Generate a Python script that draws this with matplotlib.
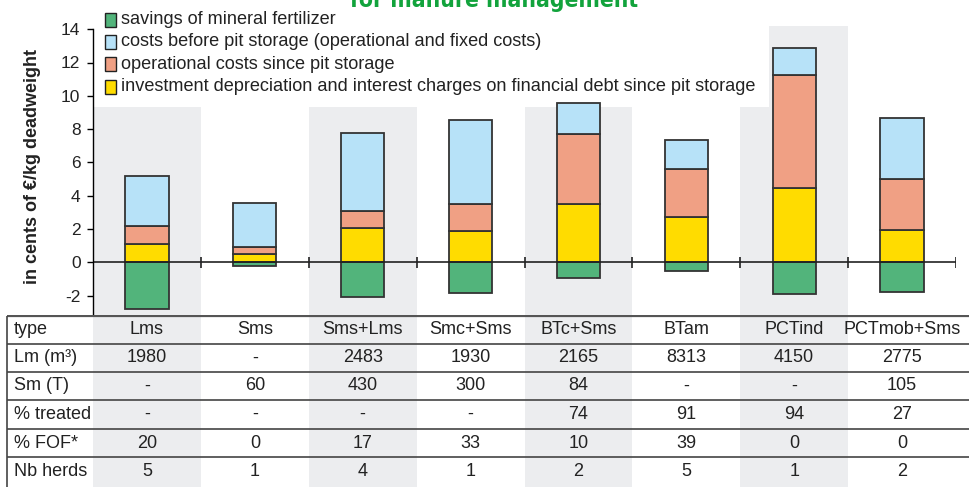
import matplotlib
matplotlib.use("Agg")
import matplotlib.pyplot as plt
from matplotlib.patches import Rectangle

plt.rcParams['font.family'] = ['Liberation Sans', 'DejaVu Sans']

# ---------------- data ----------------
categories = ["Lms", "Sms", "Sms+Lms", "Smc+Sms", "BTc+Sms", "BTam", "PCTind", "PCTmob+Sms"]
savings     = [-2.79, -0.22, -2.10, -1.84, -0.92, -0.50, -1.92, -1.78]
investment  = [1.10, 0.50, 2.04, 1.86, 3.48, 2.72, 4.48, 1.94]
operational = [1.10, 0.44, 1.02, 1.62, 4.24, 2.87, 6.77, 3.04]
before_pit  = [2.97, 2.60, 4.72, 5.07, 1.87, 1.77, 1.64, 3.67]

legend_labels = ["savings of mineral fertilizer",
                 "costs before pit storage (operational and fixed costs)",
                 "operational costs since pit storage",
                 "investment depreciation and interest charges on financial debt since pit storage"]
colors = {"savings": "#52B47B", "before": "#B7E2F8", "oper": "#F0A084", "invest": "#FFDC00"}

row_labels = ["type", "Lm (m³)", "Sm (T)", "% treated", "% FOF*", "Nb herds"]
lm_vals      = ["1980", "-", "2483", "1930", "2165", "8313", "4150", "2775"]
sm_vals      = ["-", "60", "430", "300", "84", "-", "-", "105"]
treated_vals = ["-", "-", "-", "-", "74", "91", "94", "27"]
fof_vals     = ["20", "0", "17", "33", "10", "39", "0", "0"]
herds_vals   = ["5", "1", "4", "1", "2", "5", "1", "2"]
table_rows = [categories, lm_vals, sm_vals, treated_vals, fof_vals, herds_vals]

yticks = [-2, 0, 2, 4, 6, 8, 10, 12, 14]
title_text = "for manure management"
ylabel_text = "in cents of €/kg deadweight"

# ---------------- layout ----------------
W, H = 969, 487
fig = plt.figure(figsize=(W / 100, H / 100), dpi=100)

def fx(px):
    return px / W

def fy(py):
    return 1 - py / H

ax_left, ax_right, ax_top, ax_bot = 93, 956, 26, 315
ax = fig.add_axes([fx(ax_left), fy(ax_bot), fx(ax_right) - fx(ax_left), fy(ax_top) - fy(ax_bot)])
n = len(categories)
x = list(range(n))
zero_px, unit_px = 262.3, 16.65
ymax = (zero_px - ax_top) / unit_px
ymin = (zero_px - ax_bot) / unit_px
ax.set_xlim(-0.5, n - 0.5)
ax.set_ylim(ymin, ymax)
band = "#ECEDEF"
for i in range(0, n, 2):
    ax.axvspan(i - 0.5, i + 0.5, color=band, lw=0, zorder=0)

# white legend box covering the upper part of the bands
legend_right = (769 - ax_left) / ((ax_right - ax_left) / n) - 0.5
legend_bottom = (zero_px - 107) / unit_px
ax.add_patch(Rectangle((-0.5, legend_bottom), legend_right + 0.5, ymax - legend_bottom + 1,
                       facecolor="white", edgecolor="none", zorder=1))

bw = 0.4
ec = "#333333"
lw = 1.3
ax.bar(x, savings, bw, color=colors["savings"], edgecolor=ec, linewidth=lw, zorder=3)
ax.bar(x, investment, bw, color=colors["invest"], edgecolor=ec, linewidth=lw, zorder=3)
b2 = [a for a in investment]
ax.bar(x, operational, bw, bottom=b2, color=colors["oper"], edgecolor=ec, linewidth=lw, zorder=3)
b3 = [a + b for a, b in zip(investment, operational)]
ax.bar(x, before_pit, bw, bottom=b3, color=colors["before"], edgecolor=ec, linewidth=lw, zorder=3)

# zero line with category separators
ax.axhline(0, color="#222222", lw=1.2, zorder=4)
tick_h = 5.5 / unit_px
ax.vlines([i + 0.5 for i in range(n)], -tick_h, tick_h, color="#222222", lw=1.2, zorder=4)

for s in ["top", "right", "bottom"]:
    ax.spines[s].set_visible(False)
ax.spines["left"].set_bounds(ymin, 14)
ax.spines["left"].set_linewidth(1.0)
ax.spines["left"].set_zorder(5)
ax.set_xticks([])
ax.set_yticks(yticks)
ax.set_yticklabels([str(t) for t in yticks])
ax.tick_params(axis="y", direction="out", length=4, width=1, pad=5, labelsize=12.5, labelcolor="#222222")

# y label
fig.text(fx(33), fy(167), ylabel_text, rotation=90, ha="center", va="center",
         fontsize=13, fontweight="bold", color="#222222")

# title (cut by top edge, as in the reference)
fig.text(fx(494), fy(6.5), title_text, ha="center", va="baseline", fontsize=16.4,
         fontweight="bold", family="DejaVu Sans", fontstretch="condensed", color="#12A33C")

# legend
leg_cols = [colors["savings"], colors["before"], colors["oper"], colors["invest"]]
leg_y = [19.7, 42.0, 64.3, 86.5]
for lab, c, yy in zip(legend_labels, leg_cols, leg_y):
    fig.patches.append(Rectangle((fx(104.5), fy(yy + 7)), fx(11), 14 / H, facecolor=c,
                                 edgecolor="#222222", linewidth=1.0, transform=fig.transFigure, zorder=6))
    fig.text(fx(121), fy(yy), lab, ha="left", va="center", fontsize=13.1, color="#222222", zorder=6)

# ---------------- table ----------------
tax = fig.add_axes([0, 0, 1, fy(ax_bot)])
cw = (ax_right - ax_left) / n
tax.set_xlim((0 - ax_left) / cw - 0.5, (W - ax_left) / cw - 0.5)
tax.set_ylim(H, ax_bot)
tax.axis("off")
for i in range(0, n, 2):
    tax.axvspan(i - 0.5, i + 0.5, color=band, lw=0, zorder=0)
x_border = (7 - ax_left) / cw - 0.5
x_end = (W - ax_left) / cw - 0.5
line_y = [315.5, 344, 372, 400, 428.5, 457]
row_c = [330, 358, 386, 414.5, 443, 471]
tax.hlines(line_y[0], x_border, x_end, color="#555555", lw=1.6, zorder=2)
tax.hlines(line_y[1:], x_border, x_end, color="#444444", lw=1.2, zorder=2)
tax.vlines(x_border, line_y[0], H, color="#444444", lw=1.2, zorder=2)
x_lab = (14 - ax_left) / cw - 0.5
for lab, vals, yc in zip(row_labels, table_rows, row_c):
    tax.text(x_lab, yc, lab, ha="left", va="center", fontsize=13, color="#222222")
    for i, v in enumerate(vals):
        tax.text(i, yc, v, ha="center", va="center", fontsize=13, color="#222222")

fig.savefig("out.png", dpi=100)
